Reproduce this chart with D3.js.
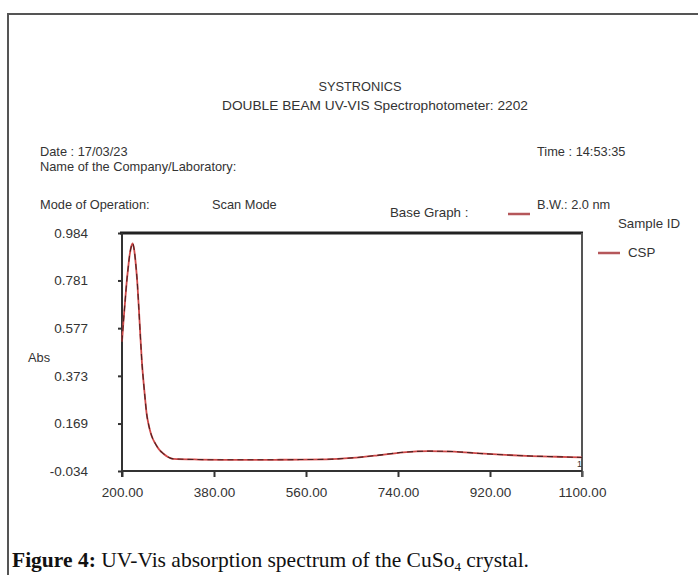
<!DOCTYPE html>
<html>
<head>
<meta charset="utf-8">
<script src="https://cdn.jsdelivr.net/npm/d3@7"></script>
<style>
  body { margin: 0; background: #fff; }
  svg { display: block; }
  .hdr { font-family: "Liberation Sans", Arial, sans-serif; font-size: 12.8px; fill: #333; }
  .tick-lbl { font-family: "Liberation Sans", Arial, sans-serif; font-size: 13.5px; fill: #333; }
  .caption { font-family: "Liberation Serif", "DejaVu Serif", serif; font-size: 21.5px; fill: #111; }
</style>
</head>
<body>
<svg id="chart" width="698" height="575"></svg>
<script>
// wavelength (nm) and absorbance
const wavelengths = [200, 203, 206, 209, 212, 215, 218, 221, 224, 227, 230, 233, 236, 239, 242, 245, 248, 252, 256, 260, 265, 270, 275, 281, 290, 300, 350, 400, 450, 500, 550, 600, 650, 700, 750, 800, 850, 900, 950, 1000, 1050, 1100];
const absorbance = [0.52, 0.61, 0.69, 0.77, 0.834, 0.89, 0.925, 0.94, 0.91, 0.85, 0.77, 0.66, 0.54, 0.43, 0.35, 0.28, 0.215, 0.165, 0.13, 0.105, 0.084, 0.066, 0.052, 0.040, 0.026, 0.018, 0.015, 0.014, 0.014, 0.014, 0.015, 0.016, 0.022, 0.033, 0.046, 0.051, 0.049, 0.041, 0.035, 0.030, 0.027, 0.024];

const xTicks = [200, 380, 560, 740, 920, 1100];
const yTicks = [-0.034, 0.169, 0.373, 0.577, 0.781, 0.984];

const headerLines = [
  { text: "SYSTRONICS", x: 360, y: 91, anchor: "middle", size: 12.8 },
  { text: "DOUBLE BEAM UV-VIS Spectrophotometer: 2202", x: 375, y: 110, anchor: "middle", size: 13.7 },
  { text: "Date : 17/03/23", x: 40, y: 156, anchor: "start" },
  { text: "Name of the Company/Laboratory:", x: 40, y: 171, anchor: "start" },
  { text: "Time : 14:53:35", x: 537, y: 156, anchor: "start" },
  { text: "Mode of Operation:", x: 40, y: 209, anchor: "start" },
  { text: "Scan Mode", x: 212, y: 209, anchor: "start" },
  { text: "B.W.: 2.0 nm", x: 537, y: 209, anchor: "start" },
  { text: "Base Graph :", x: 390, y: 217, anchor: "start", size: 13.3 },
  { text: "Sample ID", x: 618, y: 228, anchor: "start", size: 13.3 },
  { text: "CSP", x: 628, y: 257, anchor: "start", size: 13.3 },
  { text: "Abs", x: 28, y: 362, anchor: "start" }
];

const svg = d3.select("#chart");
const data = wavelengths.map((w, i) => ({ w: w, a: absorbance[i] }));

const plot = { left: 122, right: 582, top: 233, bottom: 471 };
const x = d3.scaleLinear().domain([200, 1100]).range([plot.left, plot.right]);
const y = d3.scaleLinear().domain([-0.034, 0.984]).range([plot.bottom, plot.top]);

// page frame
svg.append("path")
  .attr("d", "M8,575V14H698")
  .attr("fill", "none")
  .attr("stroke", "#555")
  .attr("stroke-width", 2);

svg.selectAll(".hdr")
  .data(headerLines)
  .enter().append("text")
  .attr("class", "hdr")
  .attr("x", d => d.x)
  .attr("y", d => d.y)
  .attr("text-anchor", d => d.anchor)
  .style("font-size", d => d.size ? d.size + "px" : null)
  .text(d => d.text);

// legend swatches
const swatches = [{ x1: 508, x2: 530, y: 214 }, { x1: 598, x2: 620, y: 253 }];
svg.selectAll(".swatch")
  .data(swatches)
  .enter().append("line")
  .attr("class", "swatch")
  .attr("x1", d => d.x1).attr("x2", d => d.x2)
  .attr("y1", d => d.y).attr("y2", d => d.y)
  .attr("stroke", "#b5575a")
  .attr("stroke-width", 2.5);

// axes (plain hyphen for the negative tick, as printed)
const xAxis = d3.axisBottom(x).tickValues(xTicks).tickSize(6).tickFormat(d => d.toFixed(2));
const yAxis = d3.axisLeft(y).tickValues(yTicks).tickSize(4).tickFormat(d => d.toFixed(3));

const gx = svg.append("g")
  .attr("transform", "translate(0," + plot.bottom + ")")
  .call(xAxis);
gx.select(".domain").remove();
gx.selectAll("line").attr("stroke", "#333").attr("stroke-width", 2);
gx.selectAll("text").attr("class", "tick-lbl").attr("y", 16).attr("font-size", null).attr("font-family", null);

const gy = svg.append("g")
  .attr("transform", "translate(" + plot.left + ",0)")
  .call(yAxis);
gy.select(".domain").remove();
gy.selectAll("line").attr("stroke", "#333").attr("stroke-width", 2);
gy.selectAll("text").attr("class", "tick-lbl").attr("x", -34).attr("dy", "0.32em").attr("font-size", null).attr("font-family", null);

// plot box
svg.append("line")
  .attr("x1", plot.left - 2).attr("x2", plot.right + 1)
  .attr("y1", plot.top).attr("y2", plot.top)
  .attr("stroke", "#222").attr("stroke-width", 3);
svg.append("line")
  .attr("x1", plot.left).attr("x2", plot.left)
  .attr("y1", plot.top).attr("y2", plot.bottom + 6)
  .attr("stroke", "#333").attr("stroke-width", 2);
svg.append("line")
  .attr("x1", plot.right).attr("x2", plot.right)
  .attr("y1", plot.top).attr("y2", plot.bottom + 6)
  .attr("stroke", "#555").attr("stroke-width", 2);
svg.append("line")
  .attr("x1", plot.left).attr("x2", plot.right)
  .attr("y1", plot.bottom).attr("y2", plot.bottom)
  .attr("stroke", "#333").attr("stroke-width", 2);

// spectrum: red trace with dark dashed overlay
const line = d3.line()
  .x(d => x(d.w))
  .y(d => y(d.a))
  .curve(d3.curveMonotoneX);

svg.append("path")
  .datum(data)
  .attr("d", line)
  .attr("fill", "none")
  .attr("stroke", "#d04848")
  .attr("stroke-width", 1.8);
svg.append("path")
  .datum(data)
  .attr("d", line)
  .attr("fill", "none")
  .attr("stroke", "#4a2222")
  .attr("stroke-width", 1.1)
  .attr("stroke-dasharray", "6,4");

// trace number at end of scan
svg.append("text")
  .attr("x", x(1100) - 5)
  .attr("y", y(absorbance[absorbance.length - 1]) + 10)
  .attr("font-family", "Liberation Sans, Arial, sans-serif")
  .attr("font-size", 9)
  .attr("fill", "#333")
  .text("1");

// caption
const cap = svg.append("text")
  .attr("class", "caption")
  .attr("x", 12)
  .attr("y", 567);
cap.append("tspan").attr("font-weight", "bold").text("Figure 4:");
cap.append("tspan").text(" UV-Vis absorption spectrum of the CuSo");
cap.append("tspan").attr("font-size", 13).attr("dy", 4).text("4");
cap.append("tspan").attr("dy", -4).text(" crystal.");
</script>
</body>
</html>
